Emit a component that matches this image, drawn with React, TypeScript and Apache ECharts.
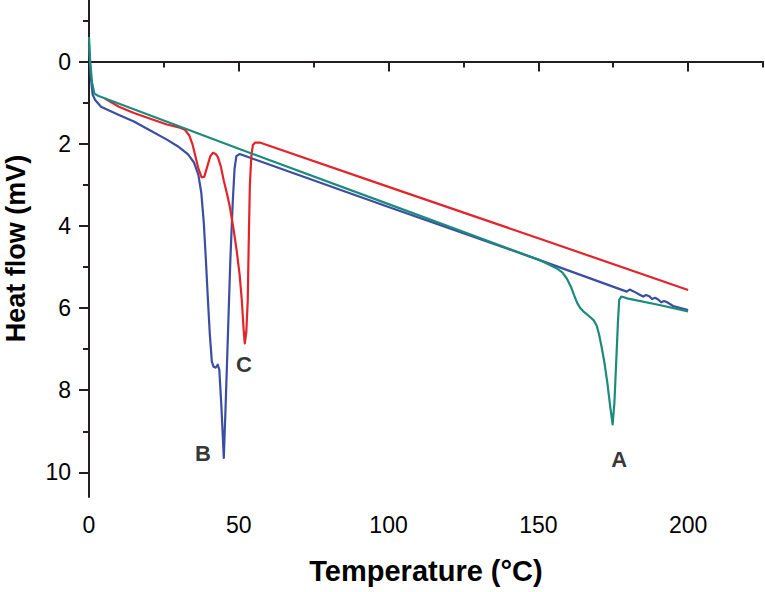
import React, { useEffect, useRef } from "react";
import * as echarts from "echarts";

// Temperature (°C), heat flow (mV) pairs
const curveA: [number, number][] = [
  [0, -0.6], [0.4, 0.0], [1, 0.5], [1.8, 0.78], [3, 0.83], [50, 2.12], [100, 3.47], [150, 4.82],
  [153, 4.92], [156, 5.03], [158, 5.13], [159.5, 5.28], [161, 5.5], [162, 5.7], [163, 5.88], [164, 6.0], [165, 6.08], [167, 6.2],
  [168.5, 6.3], [169.5, 6.43], [170.3, 6.65], [171, 6.9], [172, 7.3], [173, 7.8], [174, 8.4], [174.8, 8.83],
  [175.4, 8.3], [176, 7.3], [176.6, 6.3], [177, 5.8], [177.7, 5.72], [180, 5.77], [190, 5.92], [200, 6.08],
];
const curveB: [number, number][] = [
  [0, -0.4], [0.5, 0.3], [1.2, 0.8], [2, 0.93], [4, 1.1], [10, 1.3], [15, 1.46], [20, 1.66],
  [26, 1.9], [30, 2.08], [33, 2.25], [35, 2.45], [36.5, 2.75], [37.5, 3.2], [38.3, 3.9], [39, 4.8],
  [39.7, 5.8], [40.3, 6.6], [41, 7.3], [41.6, 7.43], [42.3, 7.45], [43, 7.38], [43.5, 7.5],
  [44.2, 8.4], [45, 9.65], [45.6, 8.4], [46.4, 6.6], [47.2, 4.8], [48, 3.4], [48.6, 2.6],
  [49.2, 2.3], [50.3, 2.25], [100, 3.54], [150, 4.82], [179.5, 5.6], [180.5, 5.55], [182, 5.6],
  [184, 5.68], [185, 5.72], [186, 5.68], [187, 5.71], [188, 5.78], [189, 5.75], [190, 5.79],
  [191, 5.86], [192, 5.83], [193, 5.86], [195, 5.95], [200, 6.05],
];
const curveC: [number, number][] = [
  [5.3, 0.9], [10, 1.1], [15, 1.25], [20, 1.38], [26, 1.53], [30, 1.6], [32, 1.66], [33.5, 1.8],
  [34.5, 2.0], [35.5, 2.3], [36.5, 2.6], [37.6, 2.82], [38.5, 2.8], [39.5, 2.55], [40.5, 2.3],
  [41.4, 2.22], [42.3, 2.25], [43, 2.32], [44, 2.55], [45, 2.9], [46, 3.2], [47, 3.53], [48.3, 4.1],
  [49.3, 4.6], [50.3, 5.2], [51, 5.8], [51.6, 6.5], [52, 6.86], [52.5, 6.6], [53, 5.8], [53.3, 4.5],
  [53.7, 3.0], [54.2, 2.3], [54.7, 2.03], [55.5, 1.97], [57, 1.97], [100, 3.05], [150, 4.3], [200, 5.56],
];

const curveNames = ["A", "B", "C"];
const labelPositions: [number, number][] = [[177, 9.68], [38, 9.54], [51.7, 7.37]];

const xMajorTicks = [0, 50, 100, 150, 200];
const xMinorTicks = [25, 75, 125, 175, 225];
const yMajorTicks = [0, 2, 4, 6, 8, 10];
const yMinorTicks = [-1, 1, 3, 5, 7, 9];

const FONT = "Liberation Sans, Arial, sans-serif";
const AXIS_COLOR = "#231f20";

export default function App() {
  const ref = useRef<HTMLDivElement>(null);
  useEffect(() => {
    if (!ref.current) return;
    const chart = echarts.init(ref.current, undefined, { renderer: "svg" });
    const axisCommon = {
      type: "value" as const,
      splitLine: { show: false },
    };
    chart.setOption({
      animation: false,
      backgroundColor: "#ffffff",
      grid: { left: 89, right: 2, top: 0, bottom: 95, containLabel: false, outerBoundsMode: "none" },
      xAxis: [
        {
          ...axisCommon,
          min: 0,
          max: 225,
          position: "bottom",
          name: "Temperature (°C)",
          nameLocation: "middle",
          nameGap: 59,
          nameTextStyle: { fontFamily: FONT, fontSize: 29, fontWeight: "bold", color: "#000" },
          axisLine: { show: true, lineStyle: { color: AXIS_COLOR, width: 2 } },
          axisTick: { show: true, length: 10, customValues: xMajorTicks, lineStyle: { color: AXIS_COLOR, width: 2 } },
          axisLabel: { show: true, customValues: xMajorTicks, margin: 16, fontFamily: FONT, fontSize: 23, color: "#000" },
        },
        {
          ...axisCommon,
          min: 0,
          max: 225,
          position: "bottom",
          axisLine: { show: false },
          axisTick: { show: true, length: 6, customValues: xMinorTicks, lineStyle: { color: AXIS_COLOR, width: 2 } },
          axisLabel: { show: false },
        },
      ],
      yAxis: [
        {
          ...axisCommon,
          min: -1.5,
          max: 10.6,
          inverse: true,
          position: "left",
          name: "Heat flow (mV)",
          nameLocation: "middle",
          nameGap: 60,
          nameTextStyle: { fontFamily: FONT, fontSize: 27, fontWeight: "bold", color: "#000" },
          axisLine: { show: true, lineStyle: { color: AXIS_COLOR, width: 2 } },
          axisTick: { show: true, length: 10, customValues: yMajorTicks, lineStyle: { color: AXIS_COLOR, width: 2 } },
          axisLabel: { show: true, customValues: yMajorTicks, margin: 18, fontFamily: FONT, fontSize: 23, color: "#000" },
        },
        {
          ...axisCommon,
          min: -1.5,
          max: 10.6,
          inverse: true,
          position: "left",
          offset: 0,
          axisLine: { show: false },
          axisTick: { show: true, length: 6, customValues: yMinorTicks, lineStyle: { color: AXIS_COLOR, width: 2 } },
          axisLabel: { show: false },
        },
      ],
      series: [
        {
          type: "line", name: "B", data: curveB, showSymbol: false, symbol: "none",
          smooth: false,
          lineStyle: { color: "#3a4ea2", width: 2.2, join: "round" },
        },
        {
          type: "line", name: "C", data: curveC, showSymbol: false, symbol: "none",
          smooth: false,
          lineStyle: { color: "#e2242b", width: 2.2, join: "round" },
        },
        {
          type: "line", name: "A", data: curveA, showSymbol: false, symbol: "none",
          smooth: false,
          lineStyle: { color: "#1c8a7c", width: 2.2, join: "round" },
        },
        {
          type: "scatter",
          symbolSize: 0,
          silent: true,
          data: labelPositions.map((p, i) => ({ value: p, name: curveNames[i] })),
          label: {
            show: true,
            position: "inside",
            formatter: (p: any) => p.name,
            fontFamily: FONT,
            fontSize: 22,
            fontWeight: "bold",
            color: "#000",
          },
        },
      ],
    });
    return () => chart.dispose();
  }, []);
  return <div ref={ref} style={{ width: 765, height: 592, position: "absolute", left: 0, top: 0 }} />;
}
